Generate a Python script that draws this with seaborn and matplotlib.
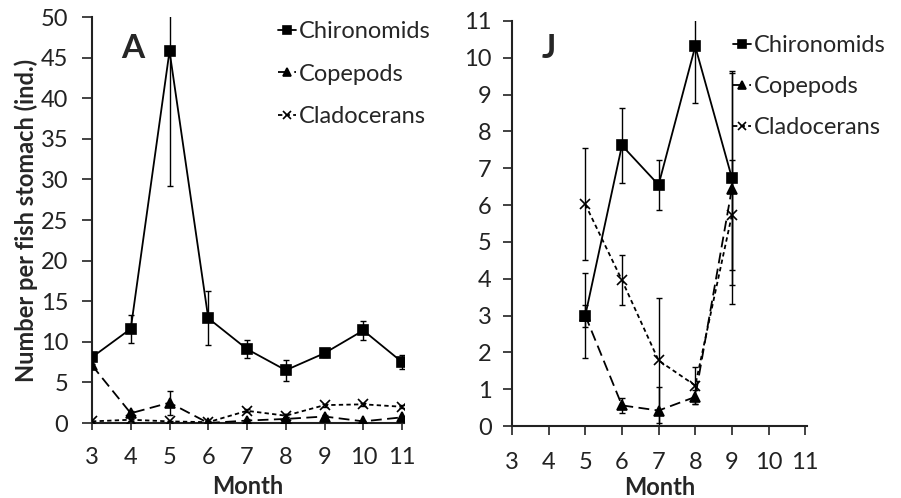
import numpy as np
import pandas as pd
import matplotlib
matplotlib.use("Agg")
import matplotlib.pyplot as plt
import seaborn as sns

# ---------------- data ----------------
months_A = [3, 4, 5, 6, 7, 8, 9, 10, 11]
chiro_A = [8.1, 11.6, 45.8, 12.9, 9.1, 6.5, 8.6, 11.4, 7.5]
chiro_A_err = [0.3, 1.7, 16.6, 3.3, 1.1, 1.3, 0.5, 1.2, 0.9]
cope_A = [7.1, 1.2, 2.5, 0.0, 0.3, 0.5, 0.8, 0.2, 0.7]
cope_A_err = [0.2, 0.3, 1.5, 0.1, 0.2, 0.2, 0.2, 0.1, 0.2]
clado_A = [0.2, 0.4, 0.2, 0.1, 1.5, 0.9, 2.2, 2.3, 2.0]
clado_A_err = [0.1, 0.1, 0.1, 0.1, 0.2, 0.2, 0.2, 0.2, 0.2]

months_J = [5, 6, 7, 8, 9]
chiro_J = [3.0, 7.62, 6.55, 10.31, 6.74]
chiro_J_err = [1.15, 1.03, 0.67, 1.55, 2.9]
cope_J = [3.0, 0.56, 0.42, 0.79, 6.45]
cope_J_err = [0.3, 0.2, 0.65, 0.2, 3.15]
clado_J = [6.02, 3.96, 1.78, 1.10, 5.73]
clado_J_err = [1.52, 0.68, 1.7, 0.5, 1.5]

taxa = ["Chironomids", "Copepods", "Cladocerans"]
month_ticks = [3, 4, 5, 6, 7, 8, 9, 10, 11]


def long_df(months, series, errs):
    rows = []
    for name, vals, ev in zip(taxa, series, errs):
        for m, v, e in zip(months, vals, ev):
            rows.append({"Month": m, "value": v, "err": e, "taxon": name})
    return pd.DataFrame(rows)


dfA = long_df(months_A, [chiro_A, cope_A, clado_A], [chiro_A_err, cope_A_err, clado_A_err])
dfJ = long_df(months_J, [chiro_J, cope_J, clado_J], [chiro_J_err, cope_J_err, clado_J_err])

# ---------------- style ----------------
sns.set_theme(style="ticks")
plt.rcParams["font.family"] = ["Lato", "DejaVu Sans"]
FS = 17
LFS = 17

markers = {"Chironomids": "s", "Copepods": "^", "Cladocerans": "x"}
linestyles = {"Chironomids": "-", "Copepods": (0, (6, 3)), "Cladocerans": (0, (2.4, 1.8))}
msizes = {"Chironomids": 7, "Copepods": 7.5, "Cladocerans": 7.5}

fig = plt.figure(figsize=(9.01, 4.98), dpi=100)
axA = fig.add_axes([92 / 901, 1 - 423 / 498, (404 - 92) / 901, (423 - 17) / 498])
axJ = fig.add_axes([512 / 901, 1 - 426 / 498, (807 - 512) / 901, (426 - 21) / 498])


def draw(ax, df, ymax, ystep, letter, letter_xy, leg_anchor, ytick_len, ypad,
         xtick_len, xlabelpad, lspace):
    for name in taxa:
        sub = df[df.taxon == name]
        ax.errorbar(sub["Month"], sub["value"], yerr=sub["err"], fmt="none",
                    ecolor="black", elinewidth=1.0, capsize=2, capthick=1.0, zorder=2)
    for name in taxa:
        sub = df[df.taxon == name]
        sns.lineplot(data=sub, x="Month", y="value", marker=markers[name],
                     linestyle=linestyles[name], color="black", linewidth=1.3,
                     markersize=msizes[name], markeredgecolor="black",
                     markerfacecolor="black", markeredgewidth=1.2,
                     ax=ax, zorder=3, label=name)
    ax.set_xlim(3, 11.05)
    ax.set_ylim(0, ymax)
    ax.set_xticks(month_ticks)
    ax.set_yticks(np.arange(0, ymax + 0.01, ystep))
    ax.set_xticklabels([str(m) for m in month_ticks])
    ax.tick_params(axis="both", labelsize=FS, colors="#222222", width=1.2,
                   direction="out")
    ax.tick_params(axis="y", length=ytick_len, pad=ypad)
    ax.tick_params(axis="x", length=xtick_len, pad=12)
    for s in ["top", "right"]:
        ax.spines[s].set_visible(False)
    for s in ["left", "bottom"]:
        ax.spines[s].set_linewidth(1.5)
        ax.spines[s].set_color("#222222")
    ax.set_xlabel("Month", fontsize=FS, fontweight="bold", labelpad=xlabelpad)
    ax.set_ylabel("")
    ax.text(letter_xy[0], letter_xy[1], letter, transform=ax.transAxes,
            fontsize=24, fontweight="bold", ha="center", va="center")
    handles, labels = ax.get_legend_handles_labels()
    leg = ax.legend(handles, labels, loc="upper left", bbox_to_anchor=leg_anchor,
                    frameon=False, fontsize=LFS, handlelength=0.75, handletextpad=0.12,
                    labelspacing=lspace, borderaxespad=0, borderpad=0, markerscale=0.75)
    return leg


draw(axA, dfA, 50, 5, "A", ((133 - 92) / (404 - 92), 1 - (48 - 17) / (423 - 17)),
     ((278 - 92) / (404 - 92), 1 - (21 - 17) / (423 - 17)), 7.2, 10, 5, 5, 0.92)
draw(axJ, dfJ, 11, 1, "J", ((549 - 512) / (807 - 512), 1 - (48 - 21) / (426 - 21)),
     ((733 - 512) / (807 - 512), 1 - (35 - 21) / (426 - 21)), 6.5, 8, 6.5, 2.5, 0.85)

axA.set_ylabel("Number per fish stomach (ind.)", fontsize=FS, fontweight="bold",
               labelpad=2)

fig.savefig("out.png", dpi=100)
